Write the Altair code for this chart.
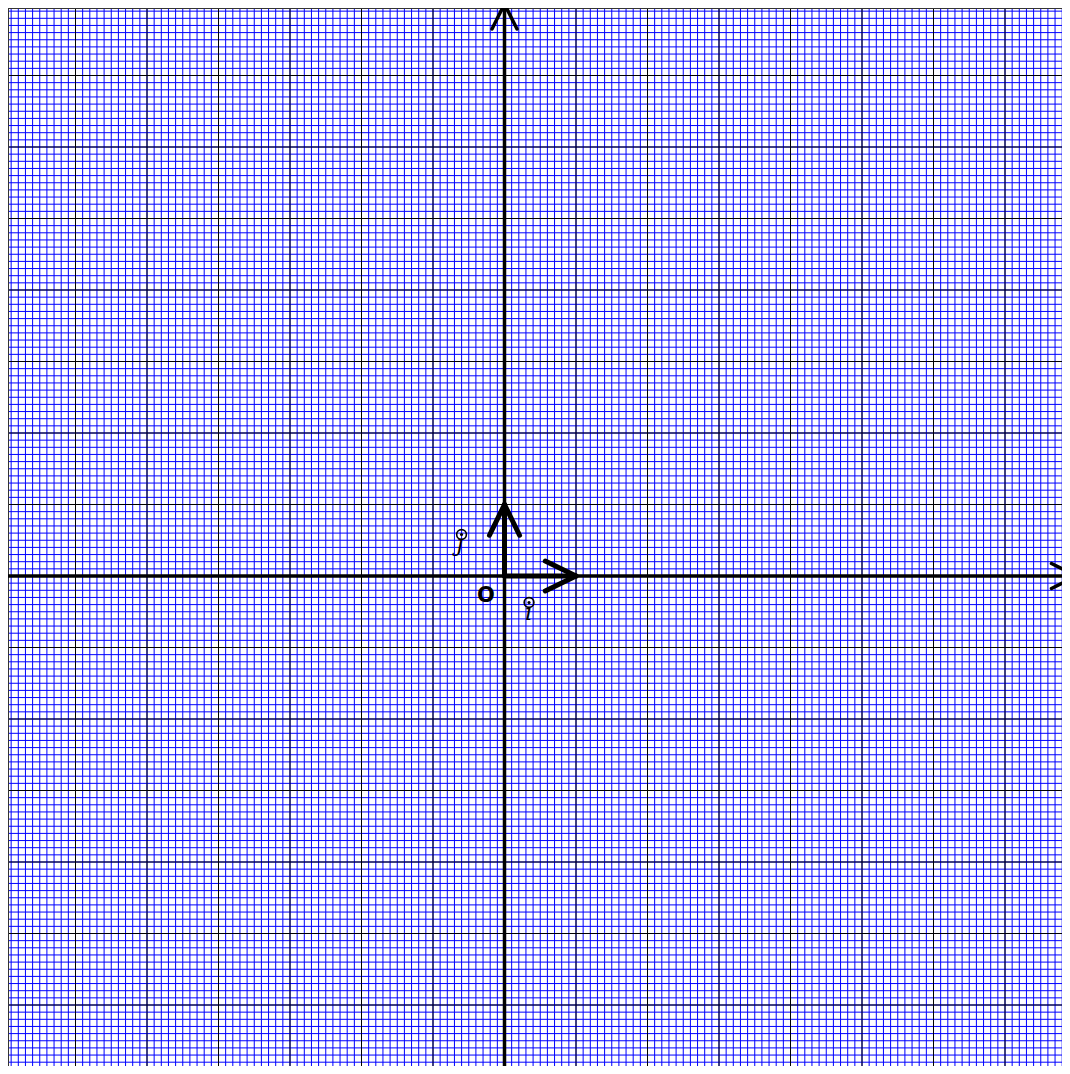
import altair as alt
import pandas as pd

# ---- view geometry (data units) ----
UNIT_PX = 71.5
X_MIN = -7 + 4 / UNIT_PX
Y_MAX = 8 - 4 / UNIT_PX
W, H = 1054, 1058
X_MAX = X_MIN + W / UNIT_PX
Y_MIN = Y_MAX - H / UNIT_PX

# ---- grid ----
grid_lo, grid_hi = -7, 8
minor_vals = [round(grid_lo + k * 0.1, 2) for k in range(int((grid_hi - grid_lo) * 10) + 1)]
major_vals = list(range(grid_lo, grid_hi + 1))

# ---- axes and arrows ----
axis_x1 = [-7, 8]
axis_y1 = [-7, 8]
axis_head_back = 0.35
axis_head_side = 0.175
vec_head_back = 0.43
vec_head_side = 0.21

# labels
origin_text = ["O"]
origin_x = [-0.26]
origin_y = [-0.28]
vec_label_text = ["\u0131", "\u0237"]          # dotless i, dotless j
vec_label_x = [0.33, -0.63]
vec_label_y = [-0.615, 0.35]
ring_x = [0.343, -0.601]
ring_y = [-0.371, 0.580]

xs = alt.Scale(domain=[X_MIN, X_MAX], nice=False, zero=False)
ys = alt.Scale(domain=[Y_MIN, Y_MAX], nice=False, zero=False)

def seg_df(rows):
    return pd.DataFrame(rows, columns=["x", "y", "x2", "y2"])

minor_v = seg_df([(v, grid_lo, v, grid_hi) for v in minor_vals])
minor_h = seg_df([(grid_lo, v, grid_hi, v) for v in minor_vals])
major_v = seg_df([(v, grid_lo, v, grid_hi) for v in major_vals])
major_h = seg_df([(grid_lo, v, grid_hi, v) for v in major_vals])
minor = pd.concat([minor_v, minor_h])
major = pd.concat([major_v, major_h])

axes = seg_df([
    (axis_x1[0], 0, axis_x1[1], 0),
    (0, axis_y1[0], 0, axis_y1[1]),
    (axis_x1[1], 0, axis_x1[1] - axis_head_back, axis_head_side),
    (axis_x1[1], 0, axis_x1[1] - axis_head_back, -axis_head_side),
    (0, axis_y1[1], axis_head_side, axis_y1[1] - axis_head_back),
    (0, axis_y1[1], -axis_head_side, axis_y1[1] - axis_head_back),
])

vecs = seg_df([
    (0, 0, 1, 0),
    (0, 0, 0, 1),
    (1, 0, 1 - vec_head_back, vec_head_side),
    (1, 0, 1 - vec_head_back, -vec_head_side),
    (0, 1, vec_head_side, 1 - vec_head_back),
    (0, 1, -vec_head_side, 1 - vec_head_back),
])

def rules(df, color, width, cap="butt"):
    return alt.Chart(df).mark_rule(color=color, strokeWidth=width, strokeCap=cap).encode(
        x=alt.X("x:Q", scale=xs, axis=None),
        y=alt.Y("y:Q", scale=ys, axis=None),
        x2="x2:Q",
        y2="y2:Q",
    )

frame = pd.DataFrame({"x": [X_MIN, X_MIN], "y": [Y_MIN, Y_MAX], "x2": [X_MIN, X_MAX], "y2": [Y_MAX, Y_MAX]})

enc = dict(x=alt.X("x:Q", scale=xs, axis=None), y=alt.Y("y:Q", scale=ys, axis=None))

lab_o = alt.Chart(pd.DataFrame({"t": origin_text, "x": origin_x, "y": origin_y})).mark_text(
    font="DejaVu Sans", fontSize=21, fontWeight="bold", color="black"
).encode(text="t:N", **enc)

lab_ij = alt.Chart(pd.DataFrame({"t": vec_label_text, "x": vec_label_x, "y": vec_label_y})).mark_text(
    font="DejaVu Serif", fontSize=23, fontStyle="italic", color="black", baseline="alphabetic"
).encode(text="t:N", **enc)

ring_df = pd.DataFrame({"x": ring_x, "y": ring_y})
rings = alt.Chart(ring_df).mark_point(
    shape="circle", filled=False, size=95, stroke="black", strokeWidth=1.6, opacity=1
).encode(**enc)
dots = alt.Chart(ring_df).mark_point(
    shape="circle", filled=True, size=10, color="black", opacity=1
).encode(**enc)

chart = alt.layer(
    rules(minor, "#0000ff", 1),
    rules(major, "#000000", 1),
    rules(frame, "#333333", 2),
    rules(axes, "#000000", 3.5, "round"),
    rules(vecs, "#000000", 5, "round"),
    lab_o,
    lab_ij,
    rings,
    dots,
).properties(
    width=W,
    height=H,
    padding=0,
    autosize=alt.AutoSizeParams(type="none"),
    background="white",
).configure_view(stroke=None)

chart.save("out.html", embed_options={"renderer": "svg", "actions": False})
